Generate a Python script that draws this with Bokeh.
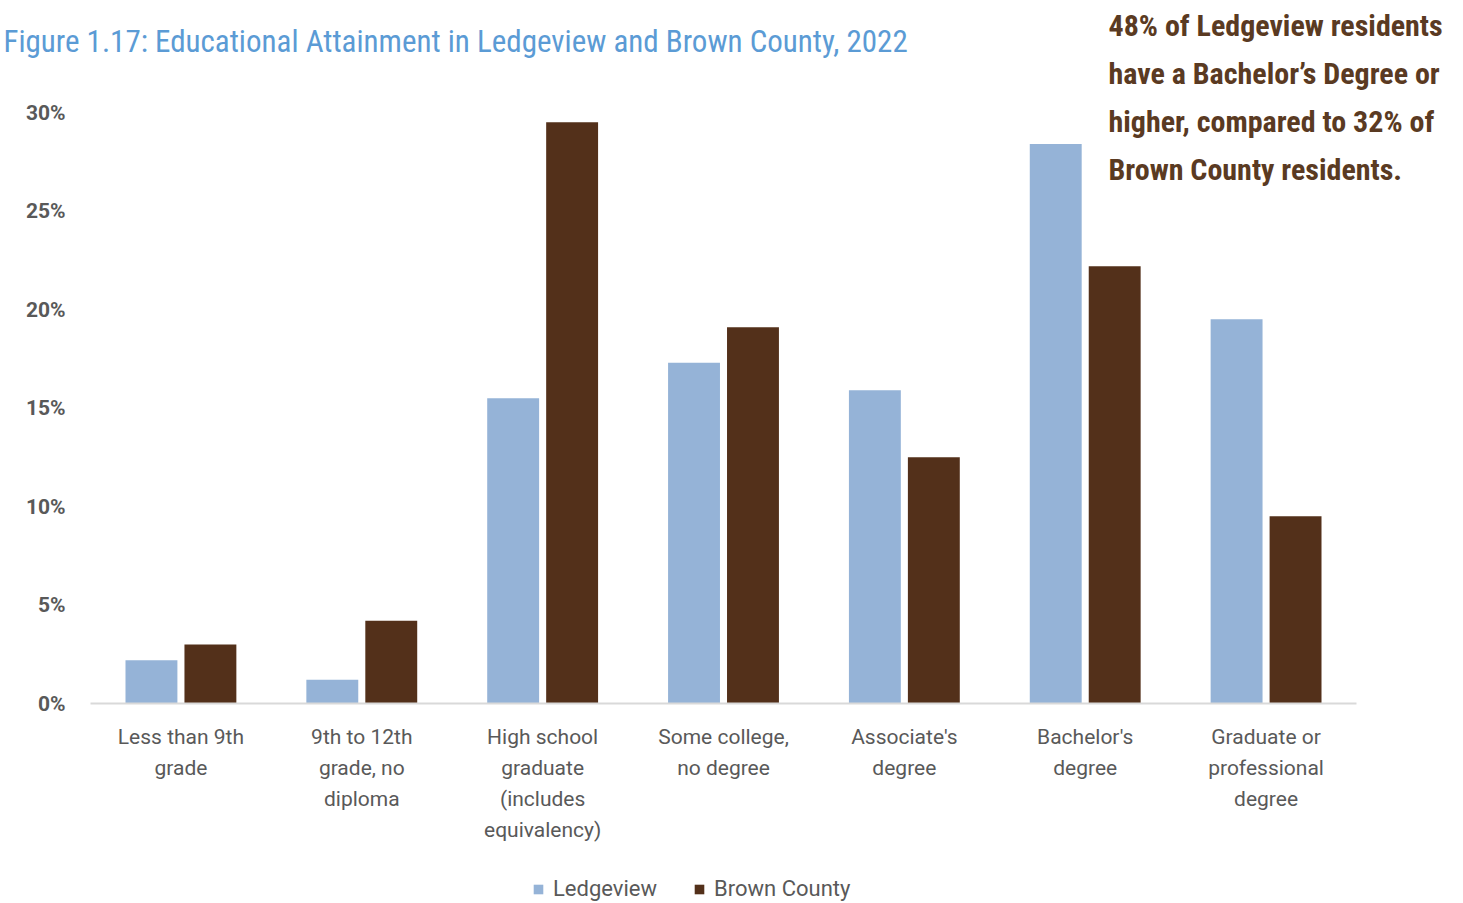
from bokeh.plotting import figure
from bokeh.models import Range1d, FixedTicker, Label, Legend, LegendItem, ColumnDataSource, PrintfTickFormatter
from bokeh.transform import dodge
from bokeh.embed import file_html
from bokeh.resources import INLINE

categories = ["Less than 9th grade", "9th to 12th grade, no diploma",
              "High school graduate (includes equivalency)", "Some college, no degree",
              "Associate's degree", "Bachelor's degree", "Graduate or professional degree"]
tick_labels = ["Less than 9th\ngrade", "9th to 12th\ngrade, no\ndiploma",
               "High school\ngraduate\n(includes\nequivalency)", "Some college,\nno degree",
               "Associate's\ndegree", "Bachelor's\ndegree", "Graduate or\nprofessional\ndegree"]
ledgeview = [2.2, 1.2, 15.5, 17.3, 15.9, 28.4, 19.5]
brown_county = [3.0, 4.2, 29.5, 19.1, 12.5, 22.2, 9.5]
y_ticks = [0, 5, 10, 15, 20, 25, 30]

title_text = "Figure 1.17: Educational Attainment in Ledgeview and Brown County, 2022"
note_lines = ["48% of Ledgeview residents", "have a Bachelor\u2019s Degree or",
              "higher, compared to 32% of", "Brown County residents."]

W, H = 1463, 903
ORIGIN_X, ORIGIN_Y = 90, 703      # page px of the plot origin (0 category edge, 0%)
PX_PER_PCT = 19.7
PX_PER_CAT = 180.857

TITLE_COLOR = "#5B9BD5"
NOTE_COLOR = "#5A3A22"
TICK_COLOR = "#595959"
HEAD_FONT = "Roboto Condensed"
TICK_FONT = "Roboto"

xs = [i + 0.5 for i in range(len(categories))]
src = ColumnDataSource(dict(x=xs, cat=categories, led=ledgeview, brown=brown_county))

p = figure(width=W, height=H, output_backend="svg", toolbar_location=None,
           x_range=Range1d(-ORIGIN_X / PX_PER_CAT, (W - ORIGIN_X) / PX_PER_CAT),
           y_range=Range1d(-(H - ORIGIN_Y) / PX_PER_PCT, ORIGIN_Y / PX_PER_PCT),
           min_border=0)
p.outline_line_color = None
p.xgrid.grid_line_color = None
p.ygrid.grid_line_color = None

r1 = p.vbar(x=dodge("x", -0.163, range=p.x_range), top="led", width=0.287, source=src,
            fill_color="#95B3D7", line_color=None)
r2 = p.vbar(x=dodge("x", 0.163, range=p.x_range), top="brown", width=0.287, source=src,
            fill_color="#53301A", line_color=None)

p.xaxis.fixed_location = 0
p.xaxis.ticker = FixedTicker(ticks=xs)
p.xaxis.bounds = (0, len(categories))
p.xaxis.major_label_overrides = {x: t for x, t in zip(xs, tick_labels)}
p.xaxis.axis_line_color = "#D9D9D9"
p.xaxis.axis_line_width = 2
p.xaxis.major_tick_line_color = None
p.xaxis.minor_tick_line_color = None
p.xaxis.major_tick_out = 0
p.xaxis.minor_tick_out = 0
p.xaxis.major_label_standoff = 21
p.xaxis.major_label_text_font = TICK_FONT
p.xaxis.major_label_text_font_size = "21px"
p.xaxis.major_label_text_color = TICK_COLOR
p.xaxis.major_label_text_line_height = 1.3

p.yaxis.fixed_location = 0
p.yaxis.ticker = FixedTicker(ticks=y_ticks)
p.yaxis.bounds = (0, 30)
p.yaxis.formatter = PrintfTickFormatter(format="%d%%")
p.yaxis.axis_line_color = None
p.yaxis.major_tick_line_color = None
p.yaxis.minor_tick_line_color = None
p.yaxis.major_tick_out = 0
p.yaxis.minor_tick_out = 0
p.yaxis.major_label_standoff = 25
p.yaxis.major_label_text_font = TICK_FONT
p.yaxis.major_label_text_font_size = "21px"
p.yaxis.major_label_text_font_style = "bold"
p.yaxis.major_label_text_color = TICK_COLOR

# title and call-out note (screen units: px from bottom-left of the canvas)
p.add_layout(Label(x=3, y=H - 41, x_units="screen", y_units="screen", text=title_text,
                   text_font=HEAD_FONT, text_font_size="31px", text_color=TITLE_COLOR,
                   text_baseline="alphabetic"))
for i, line in enumerate(note_lines):
    p.add_layout(Label(x=1108, y=H - (25 + 48 * i), x_units="screen", y_units="screen",
                       text=line, text_font=HEAD_FONT, text_font_size="30px",
                       text_font_style="bold", text_color=NOTE_COLOR,
                       text_baseline="alphabetic"))

legend = Legend(items=[LegendItem(label="Ledgeview", renderers=[r1]),
                       LegendItem(label="Brown County", renderers=[r2])],
                orientation="horizontal", location=(532, 2),
                label_text_font=TICK_FONT, label_text_font_size="22px",
                label_text_color=TICK_COLOR, glyph_width=12, glyph_height=12,
                label_standoff=9, spacing=36, border_line_color=None,
                background_fill_alpha=0, padding=4, margin=0)
p.add_layout(legend, "center")

open("out.html", "w").write(file_html(p, INLINE))
